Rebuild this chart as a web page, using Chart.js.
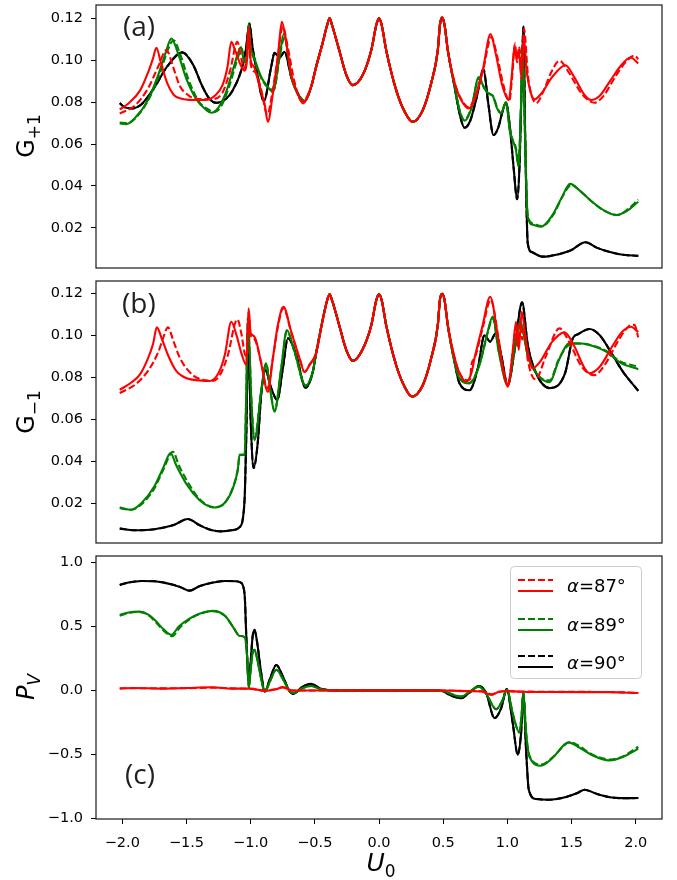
<!DOCTYPE html>
<html><head><meta charset="utf-8">
<script src="https://cdn.jsdelivr.net/npm/chart.js@4.4.0/dist/chart.umd.min.js"></script>
<style>
body{margin:0;background:#fff;}
#wrap{position:relative;width:677px;height:880px;overflow:hidden;font-family:'DejaVu Sans';}
canvas{position:absolute;left:0;}
.lbl{position:absolute;font-family:'Open Sans';font-size:28px;color:#231f20;line-height:1;}
.yt{position:absolute;transform:translate(-50%,-50%) rotate(-90deg);font-size:24px;white-space:nowrap;line-height:1;color:#000;}
.xt{position:absolute;transform:translate(-50%,-50%);font-size:25px;white-space:nowrap;line-height:1;color:#000;}
.sub{font-size:17px;position:relative;top:6px;}
.lg{position:absolute;font-size:18px;line-height:1;color:#000;white-space:nowrap;}
</style></head>
<body><div id="wrap">
<canvas id="ca" width="677" height="275" style="top:0"></canvas>
<canvas id="cb" width="677" height="275" style="top:275px"></canvas>
<canvas id="cc" width="677" height="330" style="top:550px"></canvas>
<svg style="position:absolute;left:0;top:0" width="677" height="880">
  <rect x="510.5" y="566.5" width="131" height="112" rx="4" ry="4" fill="#fff" fill-opacity="0.8" stroke="#cccccc" stroke-width="1"/>
  <line x1="518" y1="580" x2="553" y2="580" stroke="#ff0000" stroke-width="2" stroke-dasharray="7,3"/>
  <line x1="518" y1="591" x2="553" y2="591" stroke="#ff0000" stroke-width="2"/>
  <line x1="518" y1="619" x2="553" y2="619" stroke="#008000" stroke-width="2" stroke-dasharray="7,3"/>
  <line x1="518" y1="630" x2="553" y2="630" stroke="#008000" stroke-width="2"/>
  <line x1="518" y1="656" x2="553" y2="656" stroke="#000000" stroke-width="2" stroke-dasharray="7,3"/>
  <line x1="518" y1="667" x2="553" y2="667" stroke="#000000" stroke-width="2"/>
</svg>
<div class="lg" style="left:567px;top:577px"><i>α</i>=87°</div>
<div class="lg" style="left:567px;top:616px"><i>α</i>=89°</div>
<div class="lg" style="left:567px;top:654px"><i>α</i>=90°</div>
<div class="lbl" style="left:123px;top:11px">(a)</div>
<div class="lbl" style="left:122px;top:288px">(b)</div>
<div class="lbl" style="left:125px;top:759px">(c)</div>
<div class="yt" style="left:26px;top:136px">G<span class="sub">+1</span></div>
<div class="yt" style="left:26px;top:412px">G<span class="sub">−1</span></div>
<div class="yt" style="left:26px;top:687px"><i>P</i><span class="sub"><i>V</i></span></div>
<div class="xt" style="left:381px;top:862px"><i>U</i><span class="sub">0</span></div>
</div>
<script>
// ---------- x ticks ----------
const xTicks = [-2.0,-1.5,-1.0,-0.5,0.0,0.5,1.0,1.5,2.0];
const gTicks = [0.02,0.04,0.06,0.08,0.10,0.12];
const pTicks = [-1.0,-0.5,0.0,0.5,1.0];

// ---------- panel (a): G+1 ----------
const commonA = [[-0.53,0.087],[-0.49,0.0968],[-0.44,0.108],[-0.405,0.1165],[-0.385,0.12],[-0.365,0.1165],[-0.31,0.1048],[-0.255,0.093],[-0.204,0.0881],[-0.126,0.093],[-0.06,0.1048],[-0.02,0.117],[0,0.12],[0.02,0.117],[0.056,0.1048],[0.134,0.0857],[0.2,0.0754],[0.263,0.0706],[0.341,0.0762],[0.406,0.0889],[0.458,0.1048],[0.475,0.117],[0.492,0.1203],[0.51,0.117],[0.536,0.1048]];
const a87s_L = [[-2.02,0.0765],[-1.95,0.0795],[-1.86,0.0857],[-1.8,0.094],[-1.76,0.101],[-1.735,0.1059],[-1.7,0.099],[-1.65,0.089],[-1.6,0.0835],[-1.55,0.0818],[-1.45,0.081],[-1.35,0.081],[-1.28,0.083],[-1.22,0.088],[-1.18,0.097],[-1.151,0.1087],[-1.12,0.1045],[-1.08,0.098],[-1.05,0.095],[-1.03,0.099],[-1.015,0.116],[-1.0,0.1],[-0.975,0.097],[-0.95,0.092],[-0.918,0.0849],[-0.892,0.0794],[-0.866,0.0706],[-0.827,0.0841],[-0.788,0.1016],[-0.757,0.1183],[-0.72,0.107],[-0.684,0.093],[-0.64,0.085],[-0.593,0.0794]];
const a87s_R = [[0.588,0.0895],[0.64,0.081],[0.70,0.077],[0.75,0.082],[0.808,0.095],[0.869,0.1124],[0.91,0.103],[0.96,0.088],[1.011,0.081],[1.035,0.093],[1.055,0.1063],[1.073,0.1008],[1.089,0.105],[1.107,0.0929],[1.128,0.111],[1.15,0.095],[1.18,0.085],[1.211,0.0813],[1.27,0.0845],[1.35,0.092],[1.453,0.0976],[1.52,0.092],[1.6,0.0835],[1.652,0.081],[1.72,0.083],[1.8,0.09],[1.88,0.097],[1.96,0.1013],[2.02,0.0985]];
const a87d_L = [[-2.02,0.0745],[-1.9,0.0785],[-1.8,0.0865],[-1.72,0.097],[-1.657,0.1048],[-1.6,0.096],[-1.554,0.088],[-1.48,0.083],[-1.4,0.0815],[-1.3,0.0815],[-1.22,0.0845],[-1.16,0.095],[-1.104,0.1087],[-1.07,0.1],[-1.05,0.096],[-1.03,0.102],[-1.015,0.114],[-1.0,0.098],[-0.96,0.094],[-0.918,0.086],[-0.87,0.074],[-0.83,0.085],[-0.79,0.101],[-0.75,0.116],[-0.71,0.106],[-0.66,0.09],[-0.6,0.0805]];
const a87d_R = [[0.588,0.0895],[0.64,0.0815],[0.70,0.0775],[0.75,0.083],[0.81,0.095],[0.875,0.111],[0.92,0.102],[0.97,0.088],[1.015,0.0805],[1.04,0.094],[1.06,0.108],[1.075,0.099],[1.095,0.106],[1.11,0.091],[1.13,0.115],[1.16,0.093],[1.19,0.083],[1.225,0.0795],[1.28,0.085],[1.34,0.094],[1.406,0.0997],[1.48,0.094],[1.58,0.084],[1.678,0.0797],[1.75,0.083],[1.84,0.092],[1.92,0.099],[1.99,0.1022],[2.02,0.1005]];
const a89s_L = [[-2.02,0.0698],[-1.97,0.0695],[-1.9,0.0725],[-1.8,0.081],[-1.72,0.093],[-1.66,0.104],[-1.618,0.1103],[-1.57,0.104],[-1.5,0.091],[-1.42,0.081],[-1.35,0.0765],[-1.307,0.0749],[-1.25,0.0775],[-1.19,0.085],[-1.13,0.097],[-1.075,0.1063],[-1.05,0.099],[-1.03,0.101],[-1.015,0.1175],[-1.0,0.106],[-0.983,0.103],[-0.918,0.092],[-0.866,0.0873],[-0.827,0.0849],[-0.775,0.1016],[-0.741,0.1127],[-0.684,0.092],[-0.619,0.0825],[-0.58,0.0805]];
const a89s_R = [[0.588,0.088],[0.63,0.0755],[0.666,0.0711],[0.72,0.077],[0.777,0.092],[0.82,0.0865],[0.86,0.0838],[0.886,0.083],[0.92,0.077],[0.95,0.0746],[0.99,0.080],[1.02,0.066],[1.041,0.0619],[1.067,0.0571],[1.087,0.0492],[1.105,0.075],[1.12,0.108],[1.135,0.07],[1.159,0.0254],[1.2,0.0215],[1.263,0.0206],[1.35,0.026],[1.42,0.034],[1.489,0.041],[1.56,0.038],[1.65,0.033],[1.75,0.0285],[1.847,0.0262],[1.93,0.028],[2.02,0.0325]];
const a89d_L = [[-2.02,0.0702],[-1.96,0.07],[-1.88,0.0735],[-1.78,0.083],[-1.7,0.095],[-1.645,0.105],[-1.6,0.1095],[-1.55,0.103],[-1.48,0.09],[-1.4,0.08],[-1.33,0.0765],[-1.29,0.0752],[-1.23,0.078],[-1.17,0.087],[-1.11,0.099],[-1.07,0.1055],[-1.045,0.099],[-1.03,0.1],[-1.015,0.116],[-1.0,0.105],[-0.983,0.102],[-0.918,0.0915],[-0.866,0.087],[-0.82,0.086],[-0.77,0.103],[-0.736,0.111],[-0.684,0.0925],[-0.619,0.083],[-0.58,0.0805]];
const a89d_R = [[0.588,0.088],[0.63,0.0758],[0.666,0.0714],[0.72,0.0775],[0.78,0.0915],[0.82,0.087],[0.86,0.084],[0.89,0.0828],[0.92,0.0775],[0.95,0.0748],[0.99,0.0798],[1.02,0.0665],[1.041,0.062],[1.067,0.058],[1.087,0.05],[1.105,0.076],[1.12,0.106],[1.135,0.07],[1.159,0.026],[1.2,0.022],[1.27,0.0208],[1.36,0.0265],[1.43,0.035],[1.5,0.0405],[1.57,0.0375],[1.66,0.0325],[1.76,0.028],[1.86,0.0262],[1.94,0.029],[2.02,0.0335]];
const a90s_L = [[-2.02,0.0795],[-1.98,0.0775],[-1.93,0.077],[-1.85,0.079],[-1.75,0.087],[-1.65,0.097],[-1.533,0.1037],[-1.45,0.098],[-1.38,0.088],[-1.32,0.0815],[-1.268,0.0797],[-1.19,0.0817],[-1.139,0.0857],[-1.073,0.0952],[-1.035,0.106],[-1.01,0.1175],[-0.985,0.106],[-0.956,0.096],[-0.897,0.0806],[-0.84,0.0968],[-0.814,0.1035],[-0.775,0.1012],[-0.736,0.104],[-0.684,0.092],[-0.619,0.0825],[-0.58,0.0805]];
const a90s_R = [[0.588,0.0875],[0.63,0.074],[0.666,0.0678],[0.71,0.071],[0.76,0.082],[0.814,0.0956],[0.85,0.08],[0.892,0.0643],[0.93,0.068],[0.96,0.075],[0.99,0.0797],[1.02,0.068],[1.05,0.048],[1.076,0.0337],[1.095,0.05],[1.11,0.085],[1.125,0.116],[1.14,0.06],[1.159,0.0127],[1.19,0.0085],[1.276,0.0063],[1.4,0.0075],[1.5,0.0095],[1.608,0.0132],[1.7,0.0105],[1.8,0.0085],[1.9,0.0072],[2.02,0.0067]];

// ---------- panel (b): G-1 ----------
const commonB = [[-0.49,0.0915],[-0.44,0.107],[-0.405,0.1165],[-0.385,0.1195],[-0.365,0.1165],[-0.31,0.1048],[-0.255,0.093],[-0.204,0.0878],[-0.13,0.093],[-0.06,0.1048],[-0.02,0.117],[0,0.1195],[0.02,0.117],[0.056,0.1048],[0.134,0.0857],[0.2,0.0754],[0.258,0.0708],[0.341,0.0762],[0.406,0.0889],[0.458,0.1048],[0.475,0.117],[0.492,0.1198],[0.51,0.117],[0.536,0.1048]];
const b87s_L = [[-2.02,0.074],[-1.93,0.0775],[-1.865,0.0811],[-1.8,0.089],[-1.76,0.096],[-1.731,0.1038],[-1.69,0.098],[-1.64,0.09],[-1.58,0.083],[-1.5,0.0795],[-1.4,0.0785],[-1.32,0.0782],[-1.25,0.082],[-1.2,0.091],[-1.151,0.1065],[-1.11,0.1],[-1.07,0.091],[-1.034,0.0859],[-1.016,0.1129],[-1.0,0.101],[-0.983,0.1],[-0.96,0.098],[-0.918,0.0867],[-0.866,0.0731],[-0.827,0.089],[-0.788,0.1049],[-0.745,0.1136],[-0.684,0.1017],[-0.619,0.089],[-0.58,0.0825],[-0.541,0.0859]];
const b87s_R = [[0.588,0.0895],[0.627,0.082],[0.679,0.0779],[0.72,0.082],[0.744,0.089],[0.808,0.1049],[0.866,0.1184],[0.925,0.1],[0.964,0.0843],[1.003,0.0755],[1.042,0.0922],[1.068,0.1065],[1.089,0.093],[1.112,0.1112],[1.146,0.097],[1.198,0.0843],[1.25,0.087],[1.35,0.097],[1.445,0.1014],[1.52,0.095],[1.6,0.0845],[1.64,0.0819],[1.72,0.085],[1.82,0.095],[1.9,0.102],[1.964,0.1041],[2.02,0.1015]];
const b87d_L = [[-2.02,0.0725],[-1.9,0.0765],[-1.8,0.083],[-1.72,0.092],[-1.68,0.099],[-1.645,0.1038],[-1.6,0.097],[-1.55,0.089],[-1.45,0.081],[-1.35,0.0785],[-1.294,0.0782],[-1.24,0.081],[-1.18,0.09],[-1.104,0.1076],[-1.07,0.1],[-1.045,0.091],[-1.028,0.09],[-1.016,0.111],[-1.0,0.1],[-0.983,0.099],[-0.96,0.097],[-0.918,0.087],[-0.87,0.0745],[-0.827,0.089],[-0.788,0.104],[-0.745,0.113],[-0.684,0.1015],[-0.619,0.089],[-0.58,0.0825],[-0.541,0.086]];
const b87d_R = [[0.588,0.0895],[0.627,0.082],[0.685,0.0785],[0.71,0.079],[0.72,0.086],[0.744,0.089],[0.81,0.104],[0.87,0.117],[0.93,0.099],[0.97,0.083],[1.005,0.0765],[1.045,0.094],[1.065,0.104],[1.08,0.095],[1.1,0.106],[1.115,0.098],[1.13,0.103],[1.16,0.088],[1.22,0.079],[1.3,0.09],[1.406,0.1033],[1.48,0.097],[1.58,0.085],[1.678,0.081],[1.76,0.086],[1.86,0.097],[1.94,0.104],[1.99,0.105],[2.02,0.099]];
const b89s_L = [[-2.02,0.0179],[-1.93,0.0168],[-1.85,0.02],[-1.75,0.028],[-1.68,0.037],[-1.624,0.0438],[-1.58,0.038],[-1.5,0.029],[-1.4,0.0215],[-1.32,0.0183],[-1.281,0.0179],[-1.203,0.02],[-1.138,0.0271],[-1.1,0.036],[-1.086,0.043],[-1.047,0.043],[-1.035,0.07],[-1.022,0.108],[-1.01,0.095],[-0.995,0.07],[-0.97,0.05],[-0.918,0.0731],[-0.879,0.0867],[-0.85,0.075],[-0.814,0.0636],[-0.762,0.0843],[-0.718,0.1025],[-0.658,0.0922],[-0.572,0.076],[-0.515,0.083]];
const b89s_R = [[0.588,0.0875],[0.627,0.0794],[0.705,0.0771],[0.783,0.0859],[0.847,0.1017],[0.886,0.1089],[0.933,0.0922],[1.003,0.0763],[1.055,0.0927],[1.1,0.1065],[1.115,0.104],[1.159,0.0906],[1.237,0.0811],[1.33,0.0776],[1.4,0.088],[1.484,0.0962],[1.56,0.0962],[1.64,0.0954],[1.77,0.0922],[1.88,0.087],[2.02,0.0838]];
const b89d_L = [[-2.02,0.0175],[-1.93,0.0168],[-1.85,0.0195],[-1.75,0.027],[-1.68,0.036],[-1.605,0.0445],[-1.56,0.038],[-1.48,0.029],[-1.4,0.022],[-1.32,0.0185],[-1.27,0.018],[-1.203,0.02],[-1.138,0.0275],[-1.1,0.036],[-1.086,0.043],[-1.047,0.043],[-1.035,0.07],[-1.022,0.108],[-1.01,0.095],[-0.995,0.07],[-0.97,0.051],[-0.918,0.0735],[-0.879,0.0865],[-0.85,0.0755],[-0.814,0.064],[-0.762,0.084],[-0.718,0.102],[-0.658,0.092],[-0.572,0.076],[-0.515,0.083]];
const b89d_R = [[0.588,0.0875],[0.627,0.0796],[0.705,0.0774],[0.783,0.0862],[0.847,0.1012],[0.886,0.1082],[0.933,0.0925],[1.003,0.0765],[1.055,0.0925],[1.1,0.106],[1.115,0.104],[1.159,0.0905],[1.237,0.081],[1.33,0.0785],[1.4,0.0885],[1.484,0.0955],[1.56,0.096],[1.64,0.0955],[1.77,0.0925],[1.88,0.0875],[2.02,0.085]];
const b90s_L = [[-2.02,0.0078],[-1.9,0.007],[-1.75,0.0075],[-1.6,0.0095],[-1.489,0.0124],[-1.4,0.0095],[-1.3,0.007],[-1.229,0.0065],[-1.15,0.007],[-1.086,0.0085],[-1.06,0.0129],[-1.045,0.025],[-1.034,0.0525],[-1.018,0.101],[-1.0,0.06],[-0.977,0.0367],[-0.944,0.0493],[-0.918,0.0716],[-0.886,0.0835],[-0.84,0.0748],[-0.793,0.0692],[-0.749,0.0843],[-0.71,0.0986],[-0.645,0.0906],[-0.572,0.075],[-0.515,0.0827]];
const b90s_R = [[0.588,0.0875],[0.627,0.0771],[0.705,0.0738],[0.77,0.0843],[0.822,0.1],[0.866,0.097],[0.91,0.101],[0.952,0.0906],[1.003,0.0763],[1.055,0.0922],[1.115,0.1157],[1.159,0.0954],[1.224,0.0819],[1.33,0.0748],[1.45,0.082],[1.51,0.0986],[1.55,0.1005],[1.64,0.103],[1.72,0.1],[1.82,0.0906],[1.9,0.0827],[2.02,0.0735]];

// ---------- panel (c): P_V ----------
const c87s = [[-2.02,0.015],[-1.9,0.02],[-1.7,0.015],[-1.5,0.02],[-1.3,0.025],[-1.15,0.015],[-1.0,0.015],[-0.89,-0.003],[-0.8,0.01],[-0.75,0.027],[-0.68,0.0],[-0.5,0.0],[0.5,0.0],[0.7,-0.005],[0.8,-0.008],[0.874,-0.034],[0.93,-0.012],[1.0,-0.004],[1.1,-0.01],[1.3,-0.012],[1.6,-0.013],[1.8,-0.013],[2.02,-0.02]];
const c87d = [[-2.02,0.018],[-1.9,0.018],[-1.7,0.017],[-1.5,0.018],[-1.3,0.022],[-1.15,0.017],[-1.0,0.012],[-0.89,0.0],[-0.8,0.012],[-0.75,0.024],[-0.68,0.0],[-0.5,0.0],[0.5,0.0],[0.7,-0.004],[0.8,-0.006],[0.88,-0.03],[0.93,-0.01],[1.0,-0.006],[1.1,-0.008],[1.3,-0.01],[1.6,-0.011],[1.8,-0.012],[2.02,-0.018]];
const c89s = [[-2.02,0.591],[-1.95,0.61],[-1.87,0.617],[-1.8,0.595],[-1.735,0.539],[-1.68,0.48],[-1.618,0.435],[-1.56,0.5],[-1.48,0.56],[-1.4,0.6],[-1.294,0.623],[-1.2,0.585],[-1.139,0.5],[-1.086,0.427],[-1.047,0.417],[-1.03,0.3],[-1.014,0.019],[-1.0,0.16],[-0.985,0.29],[-0.97,0.318],[-0.95,0.25],[-0.92,0.1],[-0.89,-0.01],[-0.85,0.07],[-0.8,0.162],[-0.749,0.09],[-0.7,0.0],[-0.67,-0.02],[-0.593,0.02],[-0.528,0.035],[-0.463,0.012],[-0.4,0.002],[-0.3,0.0],[0.45,0.0],[0.5,-0.004],[0.549,-0.022],[0.64,-0.047],[0.705,-0.01],[0.777,0.03],[0.835,-0.025],[0.913,-0.146],[0.96,-0.08],[0.998,0.005],[1.042,-0.18],[1.094,-0.328],[1.11,-0.2],[1.125,-0.02],[1.146,-0.33],[1.172,-0.516],[1.263,-0.588],[1.35,-0.53],[1.478,-0.406],[1.55,-0.44],[1.65,-0.5],[1.795,-0.547],[1.9,-0.52],[2.02,-0.455]];
const c89d = [[-2.02,0.585],[-1.95,0.607],[-1.87,0.615],[-1.8,0.592],[-1.735,0.53],[-1.68,0.47],[-1.61,0.425],[-1.55,0.495],[-1.47,0.56],[-1.4,0.598],[-1.294,0.62],[-1.2,0.583],[-1.139,0.5],[-1.086,0.427],[-1.047,0.417],[-1.03,0.3],[-1.014,0.019],[-1.0,0.16],[-0.985,0.29],[-0.97,0.318],[-0.95,0.25],[-0.92,0.1],[-0.89,-0.01],[-0.85,0.07],[-0.8,0.162],[-0.749,0.09],[-0.7,0.0],[-0.67,-0.02],[-0.593,0.02],[-0.528,0.035],[-0.463,0.012],[-0.4,0.002],[-0.3,0.0],[0.45,0.0],[0.5,-0.004],[0.549,-0.022],[0.64,-0.047],[0.705,-0.01],[0.777,0.03],[0.835,-0.025],[0.913,-0.146],[0.96,-0.08],[0.998,0.005],[1.042,-0.18],[1.094,-0.328],[1.11,-0.2],[1.125,-0.02],[1.146,-0.33],[1.172,-0.51],[1.263,-0.58],[1.35,-0.525],[1.49,-0.405],[1.56,-0.435],[1.66,-0.5],[1.8,-0.54],[1.9,-0.515],[2.02,-0.44]];
const c90s = [[-2.02,0.826],[-1.95,0.845],[-1.85,0.857],[-1.75,0.855],[-1.65,0.838],[-1.55,0.81],[-1.476,0.781],[-1.4,0.815],[-1.294,0.844],[-1.2,0.857],[-1.12,0.855],[-1.08,0.845],[-1.06,0.82],[-1.045,0.72],[-1.035,0.45],[-1.022,0.15],[-1.014,0.058],[-1.0,0.22],[-0.985,0.42],[-0.97,0.474],[-0.95,0.38],[-0.92,0.15],[-0.89,-0.008],[-0.85,0.09],[-0.8,0.2],[-0.749,0.11],[-0.7,0.0],[-0.67,-0.026],[-0.593,0.031],[-0.528,0.052],[-0.463,0.018],[-0.4,0.003],[-0.3,0.0],[0.45,0.0],[0.5,-0.005],[0.549,-0.034],[0.64,-0.06],[0.705,-0.016],[0.777,0.034],[0.835,-0.02],[0.9,-0.216],[0.952,-0.138],[0.995,0.011],[1.042,-0.255],[1.081,-0.502],[1.107,-0.333],[1.125,-0.02],[1.146,-0.463],[1.167,-0.776],[1.224,-0.849],[1.328,-0.854],[1.45,-0.835],[1.55,-0.8],[1.6,-0.776],[1.7,-0.81],[1.8,-0.835],[1.9,-0.842],[2.02,-0.841]];

// ---------- build ----------
const RED='#ff0000', GREEN='#008000', BLACK='#000000';
const fmt = (v,d) => (v < -1e-9 ? '\u2212' : '') + Math.abs(v).toFixed(d);
const frame = {id:'frame', afterDatasetsDraw(c){const a=c.chartArea,ctx=c.ctx;ctx.save();ctx.strokeStyle='#1a1a1a';ctx.lineWidth=1.2;ctx.strokeRect(a.left,a.top,a.right-a.left,a.bottom-a.top);ctx.restore();}};
const FONT = {family:'DejaVu Sans', size:14.5};

function ds(pts, color, dashed){
  return {data: pts.map(p=>({x:p[0], y:p[1]})), borderColor: color, borderWidth: 2.1,
          borderDash: dashed ? [7,3] : [], pointRadius: 0, fill: false,
          cubicInterpolationMode: 'monotone', borderCapStyle: 'butt', borderJoinStyle: 'round'};
}

function panel(id, datasets, ymin, ymax, yTicks, yDec, showX, pad){
  new Chart(document.getElementById(id), {
    type: 'line',
    data: {datasets},
    options: {
      responsive: false, animation: false, events: [],
      layout: {padding: pad},
      plugins: {legend: {display:false}, tooltip: {enabled:false}},
      scales: {
        x: {type:'linear', min:-2.205, max:2.205, display: showX,
            afterBuildTicks: s => { s.ticks = xTicks.map(v=>({value:v})); },
            afterFit: s => { s.height = showX ? 40 : 0; s.paddingLeft = 0; s.paddingRight = 0; },
            grid: {display:true, drawOnChartArea:false, drawTicks:true, tickLength:5, color:'#000', lineWidth:1},
            border: {display:false},
            ticks: {padding:11, color:'#000', font:FONT, maxRotation:0, autoSkip:false, callback: v => fmt(v,1)}},
        y: {type:'linear', min:ymin, max:ymax,
            afterBuildTicks: s => { s.ticks = yTicks.map(v=>({value:v})); },
            afterFit: s => { s.width = 96; s.paddingTop = 0; s.paddingBottom = 0; },
            grid: {display:true, drawOnChartArea:false, drawTicks:true, tickLength:5, color:'#000', lineWidth:1},
            border: {display:false},
            ticks: {padding:8, color:'#000', font:FONT, autoSkip:false, callback: v => fmt(v,yDec)}}
      }
    },
    plugins: [frame]
  });
}

panel('ca', [
  ds([...a87d_L, ...commonA, ...a87d_R], RED, true),
  ds([...a87s_L, ...commonA, ...a87s_R], RED, false),
  ds([...a89d_L, ...commonA, ...a89d_R], GREEN, true),
  ds([...a89s_L, ...commonA, ...a89s_R], GREEN, false),
  ds([...a90s_L, ...commonA, ...a90s_R], BLACK, true),
  ds([...a90s_L, ...commonA, ...a90s_R], BLACK, false)
], 0.0009, 0.1263, gTicks, 2, false, {top:5, bottom:7, left:0, right:15});

panel('cb', [
  ds([...b87d_L, ...commonB, ...b87d_R], RED, true),
  ds([...b87s_L, ...commonB, ...b87s_R], RED, false),
  ds([...b89d_L, ...commonB, ...b89d_R], GREEN, true),
  ds([...b89s_L, ...commonB, ...b89s_R], GREEN, false),
  ds([...b90s_L, ...commonB, ...b90s_R], BLACK, true),
  ds([...b90s_L, ...commonB, ...b90s_R], BLACK, false)
], 0.00095, 0.1259, gTicks, 2, false, {top:6, bottom:7, left:0, right:15});

panel('cc', [
  ds(c87d, RED, true),
  ds(c87s, RED, false),
  ds(c89d, GREEN, true),
  ds(c89s, GREEN, false),
  ds(c90s, BLACK, true),
  ds(c90s, BLACK, false)
], -1.005, 1.052, pTicks, 1, true, {top:6, bottom:21, left:0, right:15});
</script>
</body></html>
